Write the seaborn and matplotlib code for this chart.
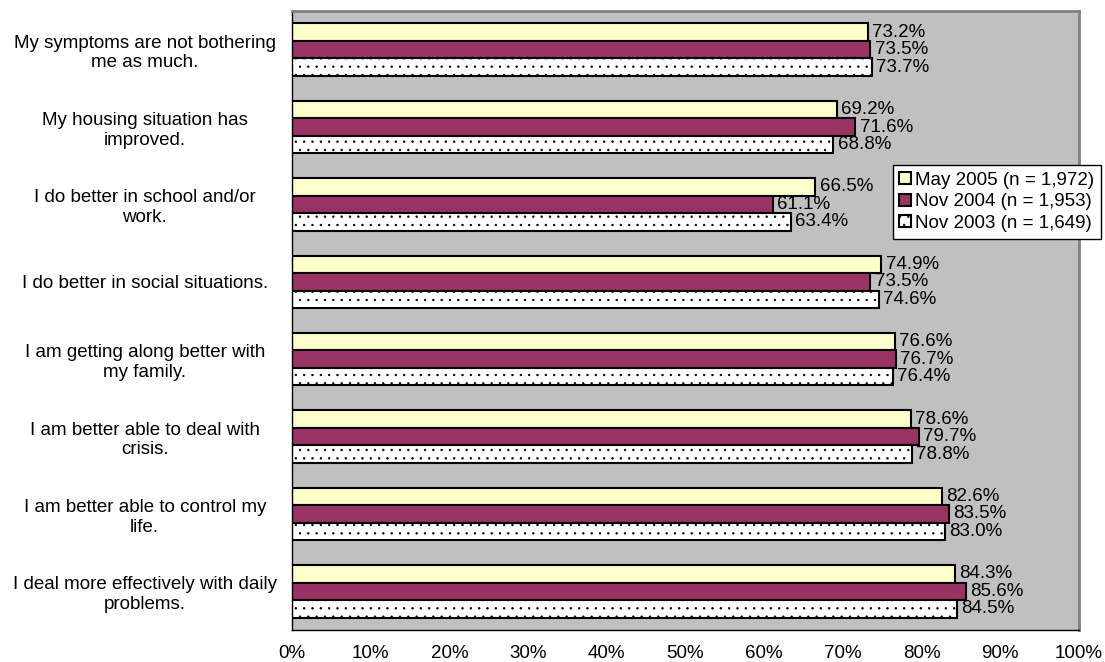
import matplotlib
matplotlib.use("Agg")
import matplotlib.pyplot as plt
import seaborn as sns
import pandas as pd
from matplotlib.ticker import FixedLocator, PercentFormatter

categories = [
    "My symptoms are not bothering\nme as much.",
    "My housing situation has\nimproved.",
    "I do better in school and/or\nwork.",
    "I do better in social situations.",
    "I am getting along better with\nmy family.",
    "I am better able to deal with\ncrisis.",
    "I am better able to control my\nlife.",
    "I deal more effectively with daily\nproblems.",
]
series_names = ["May 2005 (n = 1,972)", "Nov 2004 (n = 1,953)", "Nov 2003 (n = 1,649)"]
may_2005 = [73.2, 69.2, 66.5, 74.9, 76.6, 78.6, 82.6, 84.3]
nov_2004 = [73.5, 71.6, 61.1, 73.5, 76.7, 79.7, 83.5, 85.6]
nov_2003 = [73.7, 68.8, 63.4, 74.6, 76.4, 78.8, 83.0, 84.5]
x_ticks = [0, 10, 20, 30, 40, 50, 60, 70, 80, 90, 100]

rows = []
for name, vals in zip(series_names, [may_2005, nov_2004, nov_2003]):
    for cat, v in zip(categories, vals):
        rows.append({"item": cat, "series": name, "pct": v})
df = pd.DataFrame(rows)

sns.set_style("white")
plt.rcParams["font.family"] = ["Liberation Sans", "DejaVu Sans"]
plt.rcParams["text.color"] = "black"
plt.rcParams["xtick.color"] = "black"
plt.rcParams["ytick.color"] = "black"
plt.rcParams["hatch.linewidth"] = 0.5
plt.rcParams["hatch.color"] = "#404040"

FS = 13.5

fig = plt.figure(figsize=(11.05, 6.62), dpi=100)
ax = fig.add_axes([292 / 1105, 1 - 630 / 662, (1079 - 292) / 1105, (630 - 11) / 662])
ax.set_facecolor("#C0C0C0")

palette = {series_names[0]: "#FFFFCC", series_names[1]: "#993366", series_names[2]: "#FFFFFF"}
sns.barplot(data=df, y="item", x="pct", hue="series", hue_order=series_names,
            order=categories, orient="h", palette=palette, width=0.68,
            edgecolor="black", linewidth=1.5, saturation=1, ax=ax, legend=True)

# dotted fill for the oldest survey
for bar in ax.containers[2]:
    bar.set_hatch("..")

for cont in ax.containers:
    ax.bar_label(cont, labels=[f"{w:.1f}%" for w in cont.datavalues], padding=3,
                 fontsize=FS, color="black")

ax.set_xlim(0, 100)
ax.set_ylim(len(categories) - 0.5, -0.5)
ax.xaxis.set_major_locator(FixedLocator(x_ticks))
ax.xaxis.set_major_formatter(PercentFormatter(decimals=0))
ax.yaxis.set_major_locator(FixedLocator(range(len(categories))))
ax.set_yticks([i - 0.5 for i in range(len(categories) + 1)], minor=True)
ax.set_yticklabels(categories, ha="center", fontsize=FS, linespacing=1.2, color="black")
ax.tick_params(axis="y", which="major", length=0, pad=106)
ax.tick_params(axis="y", which="minor", length=6, width=1, color="black", direction="out")
ax.tick_params(axis="x", length=5, width=1, color="black", direction="out",
               labelsize=FS, labelcolor="black", pad=6)
ax.set_xlabel("")
ax.set_ylabel("")

for side in ["top", "right"]:
    ax.spines[side].set_color("#808080")
    ax.spines[side].set_linewidth(2)
for side in ["left", "bottom"]:
    ax.spines[side].set_color("black")
    ax.spines[side].set_linewidth(1)

handles, labels = ax.get_legend_handles_labels()
handles[2].set_hatch("..")
leg = ax.legend(handles, labels, loc="upper right", bbox_to_anchor=(1101 / 1105, 1 - 165 / 662),
                bbox_transform=fig.transFigure, fontsize=FS, frameon=True, fancybox=False,
                handlelength=0.6, handleheight=0.6, handletextpad=0.25, borderpad=0.35,
                labelspacing=0.25, borderaxespad=0)
leg.get_frame().set_edgecolor("black")
leg.get_frame().set_linewidth(1)
leg.get_frame().set_facecolor("white")
leg.get_frame().set_alpha(1)
for t in leg.get_texts():
    t.set_color("black")

fig.savefig("out.png", dpi=100)
